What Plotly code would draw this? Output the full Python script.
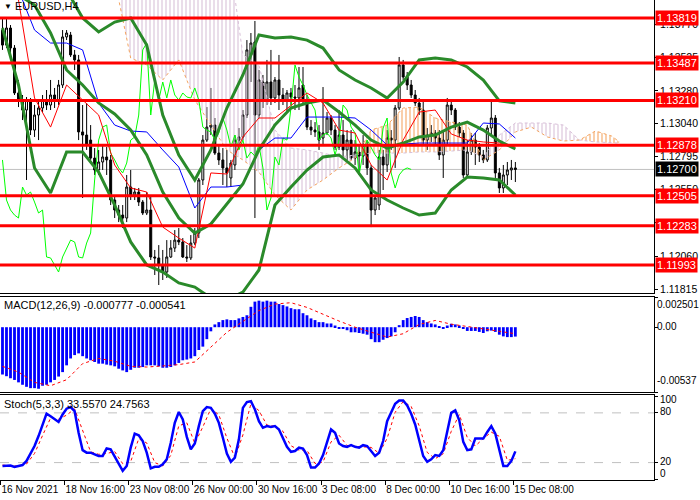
import plotly.graph_objects as go
from plotly.subplots import make_subplots

# EURUSD H4, 16 Nov 2021 00:00 .. 15 Dec 2021 08:00 (129 bars)
opens = [1.13730, 1.13619, 1.13745, 1.13597, 1.13265, 1.13213, 1.13139, 1.13213, 1.12991, 1.13102,
         1.13154, 1.13213, 1.13176, 1.13250, 1.13213, 1.13324, 1.13679, 1.13693, 1.13546, 1.13509,
         1.12977, 1.12954, 1.12917, 1.12784, 1.12696, 1.12755, 1.12792, 1.12770, 1.12474, 1.12400,
         1.12363, 1.12341, 1.12570, 1.12511, 1.12533, 1.12459, 1.12378, 1.12400, 1.12053, 1.12046,
         1.11994, 1.11942, 1.12053, 1.12119, 1.12178, 1.12164, 1.12053, 1.12046, 1.12156, 1.12230,
         1.12622, 1.12917, 1.13013, 1.13028, 1.12821, 1.12770, 1.12711, 1.12637, 1.12733, 1.12917,
         1.12940, 1.13102, 1.13546, 1.13642, 1.13102, 1.13346, 1.13213, 1.13346, 1.13228, 1.13361,
         1.13250, 1.13213, 1.13265, 1.13235, 1.13228, 1.13324, 1.13213, 1.13013, 1.12991, 1.12977,
         1.12932, 1.12969, 1.13080, 1.12991, 1.12866, 1.12954, 1.12844, 1.12917, 1.12784, 1.12829,
         1.12799, 1.12880, 1.12711, 1.12400, 1.12437, 1.12792, 1.12733, 1.12932, 1.12917, 1.13154,
         1.13472, 1.13383, 1.13324, 1.13250, 1.13191, 1.13139, 1.12917, 1.12954, 1.12969, 1.12932,
         1.12807, 1.12917, 1.13176, 1.13139, 1.13013, 1.12969, 1.12659, 1.12829, 1.12917, 1.12866,
         1.12807, 1.12770, 1.13006, 1.13080, 1.12674, 1.12563, 1.12659, 1.12696, 1.12711]
highs = [1.13819, 1.13819, 1.13767, 1.13619, 1.13361, 1.13250, 1.13235, 1.13228, 1.13176, 1.13213,
         1.13250, 1.13287, 1.13361, 1.13302, 1.13361, 1.13730, 1.13730, 1.13716, 1.13583, 1.13546,
         1.13176, 1.13191, 1.13028, 1.12858, 1.12844, 1.12880, 1.12866, 1.12807, 1.12511, 1.12437,
         1.12437, 1.12659, 1.12696, 1.12563, 1.12563, 1.12474, 1.12533, 1.12511, 1.12105, 1.12141,
         1.12105, 1.12178, 1.12178, 1.12252, 1.12267, 1.12193, 1.12141, 1.12215, 1.12267, 1.12637,
         1.12954, 1.13161, 1.13302, 1.13080, 1.12880, 1.12858, 1.12844, 1.12770, 1.12954, 1.13006,
         1.13139, 1.13656, 1.13708, 1.13797, 1.13435, 1.13398, 1.13509, 1.13583, 1.13383, 1.13546,
         1.13302, 1.13287, 1.13302, 1.13324, 1.13457, 1.13457, 1.13250, 1.13065, 1.13050, 1.13028,
         1.13309, 1.13124, 1.13102, 1.13028, 1.13139, 1.13065, 1.12991, 1.12991, 1.12917, 1.12880,
         1.12954, 1.12917, 1.12733, 1.12511, 1.12844, 1.12844, 1.12991, 1.12991, 1.13176, 1.13531,
         1.13509, 1.13420, 1.13361, 1.13287, 1.13228, 1.13213, 1.13006, 1.13028, 1.12991, 1.12991,
         1.12991, 1.13228, 1.13213, 1.13154, 1.13050, 1.12991, 1.12917, 1.12969, 1.12969, 1.12895,
         1.12844, 1.13028, 1.13213, 1.13102, 1.12711, 1.12733, 1.12755, 1.12770, 1.12755]
lows = [1.13583, 1.13597, 1.13546, 1.13250, 1.13161, 1.13065, 1.12622, 1.12954, 1.12940, 1.12917,
        1.13124, 1.13139, 1.13139, 1.13154, 1.13176, 1.13302, 1.13656, 1.13531, 1.13435, 1.12917,
        1.12489, 1.12844, 1.12770, 1.12659, 1.12659, 1.12696, 1.12659, 1.12437, 1.12341, 1.12311,
        1.12267, 1.12311, 1.12474, 1.12474, 1.12430, 1.12363, 1.12363, 1.12031, 1.11920, 1.11846,
        1.11883, 1.11898, 1.12046, 1.12090, 1.12141, 1.12046, 1.12016, 1.12031, 1.12141, 1.12193,
        1.12585, 1.12903, 1.12954, 1.12807, 1.12733, 1.12585, 1.12570, 1.12570, 1.12696, 1.12858,
        1.12917, 1.13080, 1.13346, 1.12341, 1.13080, 1.13154, 1.13176, 1.13176, 1.13191, 1.13139,
        1.13176, 1.13124, 1.13176, 1.13139, 1.13139, 1.13176, 1.12991, 1.12954, 1.12940, 1.12844,
        1.12880, 1.12954, 1.12954, 1.12844, 1.12844, 1.12792, 1.12770, 1.12770, 1.12733, 1.12659,
        1.12733, 1.12659, 1.12274, 1.12363, 1.12400, 1.12548, 1.12681, 1.12844, 1.12711, 1.13139,
        1.13361, 1.13287, 1.13228, 1.13169, 1.13102, 1.12880, 1.12844, 1.12903, 1.12880, 1.12770,
        1.12637, 1.12880, 1.13102, 1.12991, 1.12940, 1.12637, 1.12637, 1.12807, 1.12733, 1.12755,
        1.12747, 1.12755, 1.12954, 1.12637, 1.12526, 1.12526, 1.12585, 1.12622, 1.12607]
closes = [1.13619, 1.13745, 1.13597, 1.13265, 1.13213, 1.13139, 1.13213, 1.12991, 1.13102, 1.13154,
          1.13213, 1.13176, 1.13250, 1.13213, 1.13324, 1.13679, 1.13708, 1.13546, 1.13509, 1.12977,
          1.12954, 1.12880, 1.12784, 1.12696, 1.12755, 1.12792, 1.12770, 1.12474, 1.12400, 1.12363,
          1.12341, 1.12570, 1.12511, 1.12533, 1.12459, 1.12378, 1.12400, 1.12053, 1.12046, 1.11994,
          1.11942, 1.12053, 1.12119, 1.12178, 1.12164, 1.12053, 1.12046, 1.12156, 1.12230, 1.12622,
          1.12917, 1.13013, 1.13028, 1.12821, 1.12770, 1.12711, 1.12674, 1.12747, 1.12917, 1.12940,
          1.13102, 1.13583, 1.13634, 1.13102, 1.13361, 1.13213, 1.13346, 1.13228, 1.13361, 1.13250,
          1.13213, 1.13265, 1.13235, 1.13228, 1.13302, 1.13213, 1.13013, 1.12991, 1.12977, 1.12917,
          1.12969, 1.13080, 1.12991, 1.12866, 1.12954, 1.12844, 1.12917, 1.12784, 1.12829, 1.12799,
          1.12880, 1.12711, 1.12400, 1.12489, 1.12792, 1.12733, 1.12932, 1.12917, 1.13154, 1.13472,
          1.13383, 1.13324, 1.13250, 1.13191, 1.13139, 1.12917, 1.12954, 1.12969, 1.12932, 1.12807,
          1.12917, 1.13176, 1.13139, 1.13013, 1.12969, 1.12659, 1.12829, 1.12917, 1.12866, 1.12807,
          1.12770, 1.13006, 1.13080, 1.12674, 1.12563, 1.12659, 1.12696, 1.12711, 1.12700]
bars = list(range(len(closes)))

# indicator lines read every 4 bars
ind_x = list(range(0, 129, 4))
bb_upper = [1.14381, 1.14654, 1.15061, 1.14876, 1.14026, 1.13819, 1.13716, 1.13789, 1.13819, 1.13619,
            1.13102, 1.12807, 1.12622, 1.12844, 1.13154, 1.13398, 1.13693, 1.13671, 1.13679, 1.13656,
            1.13597, 1.13435, 1.13361, 1.13302, 1.13228, 1.13346, 1.13509, 1.13523, 1.13509, 1.13457,
            1.13361, 1.13206, 1.13191]
bb_mid = [1.14063, 1.13989, 1.13915, 1.13708, 1.13435, 1.13324, 1.13191, 1.13110, 1.12991, 1.12807,
          1.12533, 1.12341, 1.12230, 1.12297, 1.12444, 1.12592, 1.12844, 1.13028, 1.13154, 1.13191,
          1.13213, 1.13124, 1.13028, 1.12917, 1.12858, 1.12895, 1.12940, 1.12954, 1.13013, 1.13050,
          1.12991, 1.12910, 1.12851]
bb_lower = [1.13745, 1.13324, 1.12711, 1.12526, 1.12829, 1.12829, 1.12681, 1.12437, 1.12164, 1.11994,
            1.11942, 1.11861, 1.11831, 1.11750, 1.11735, 1.11794, 1.11957, 1.12437, 1.12570, 1.12696,
            1.12792, 1.12807, 1.12711, 1.12548, 1.12474, 1.12415, 1.12363, 1.12378, 1.12548, 1.12644,
            1.12637, 1.12622, 1.12511]
tenkan = [1.14248, 1.13952, 1.13228, 1.13013, 1.13324, 1.13213, 1.13102, 1.12733, 1.12563, 1.12533,
          1.12274, 1.12193, 1.12119, 1.12674, 1.12666, 1.12940, 1.13080, 1.13080, 1.13176, 1.13265,
          1.13191, 1.12991, 1.12969, 1.12733, 1.12622, 1.12917, 1.13124, 1.13139, 1.12962, 1.12917,
          1.12903, 1.12895, 1.12866]
kijun = [1.14100, 1.14026, 1.13730, 1.13634, 1.13634, 1.13583, 1.13191, 1.13028, 1.12984, 1.12977,
         1.12844, 1.12718, 1.12415, 1.12570, 1.12570, 1.12585, 1.12844, 1.12932, 1.12932, 1.13087,
         1.13087, 1.13087, 1.13080, 1.12991, 1.12880, 1.12888, 1.12895, 1.12895, 1.12895, 1.12895,
         1.13043, 1.13036, 1.12932]

# Senkou spans (already shifted 26 bars forward)
cloud_x = list(range(0, 153, 4)) + [154]
span_a = [1.14174, 1.14174, 1.14174, 1.14174, 1.14174, 1.14174, 1.14174, 1.14100, 1.13523, 1.13472,
          1.13361, 1.13509, 1.13213, 1.13028, 1.12844, 1.12770, 1.12681, 1.12511, 1.12400, 1.12548,
          1.12622, 1.12711, 1.12784, 1.12991, 1.13028, 1.13154, 1.13161, 1.13080, 1.13050, 1.13028,
          1.12770, 1.12844, 1.12977, 1.13013, 1.12940, 1.12910, 1.12917, 1.12984, 1.12947, 1.12903]
span_b = [1.14395, 1.14395, 1.14395, 1.14395, 1.14395, 1.14395, 1.14395, 1.14395, 1.14395, 1.14395,
          1.14395, 1.14395, 1.14395, 1.14395, 1.14395, 1.13546, 1.13472, 1.12991, 1.12858, 1.12844,
          1.12821, 1.12792, 1.12807, 1.12821, 1.12821, 1.12821, 1.12829, 1.12829, 1.12836, 1.12844,
          1.12792, 1.12954, 1.13043, 1.13043, 1.13043, 1.13028, 1.12917, 1.12903, 1.12895, 1.12895]

levels = [1.13819, 1.13487, 1.13210, 1.12878, 1.12505, 1.12283, 1.11993]
last_price = 1.12700
price_ticks = [1.11815, 1.12060, 1.12305, 1.12550, 1.12795, 1.13040, 1.13280, 1.13525, 1.13770]

macd = [-0.00392, -0.00406, -0.00423, -0.00437, -0.00457, -0.00477, -0.00494, -0.00505, -0.00505, -0.00510,
        -0.00485, -0.00477, -0.00457, -0.00437, -0.00409, -0.00372, -0.00316, -0.00259, -0.00231, -0.00217,
        -0.00240, -0.00259, -0.00274, -0.00288, -0.00302, -0.00302, -0.00310, -0.00316, -0.00324, -0.00344,
        -0.00358, -0.00372, -0.00353, -0.00336, -0.00336, -0.00330, -0.00316, -0.00316, -0.00316, -0.00324,
        -0.00336, -0.00336, -0.00330, -0.00316, -0.00296, -0.00274, -0.00268, -0.00259, -0.00240, -0.00189,
        -0.00161, -0.00099, -0.00034, 0.00023, 0.00042, 0.00059, 0.00065, 0.00059, 0.00059, 0.00073,
        0.00085, 0.00099, 0.00169, 0.00212, 0.00220, 0.00212, 0.00220, 0.00212, 0.00212, 0.00192,
        0.00183, 0.00172, 0.00158, 0.00149, 0.00149, 0.00116, 0.00099, 0.00073, 0.00059, 0.00042,
        0.00042, 0.00031, 0.00031, 0.00014, -0.00014, -0.00014, -0.00025, -0.00042, -0.00042, -0.00048,
        -0.00054, -0.00062, -0.00099, -0.00124, -0.00124, -0.00104, -0.00090, -0.00076, -0.00042, 0.00017,
        0.00059, 0.00076, 0.00085, 0.00093, 0.00085, 0.00059, 0.00042, 0.00031, 0.00023, 0.00008,
        -0.00008, 0.00014, 0.00028, 0.00023, 0.00014, -0.00014, -0.00031, -0.00031, -0.00031, -0.00039,
        -0.00048, -0.00034, -0.00028, -0.00039, -0.00062, -0.00076, -0.00082, -0.00082, -0.000777]
macd_signal = [-0.00324, -0.00372, -0.00457, -0.00485, -0.00435, -0.00302, -0.00259, -0.00282, -0.00324,
               -0.00330, -0.00321, -0.00310, -0.00288, -0.00166, -0.00042, 0.00048, 0.00138, 0.00192,
               0.00203, 0.00164, 0.00107, 0.00051, 0.00000, -0.00042, -0.00082, -0.00054, 0.00023,
               0.00056, 0.00025, 0.00006, -0.00014, -0.00034, -0.000541]

stoch_k = [16, 16.5, 16.5, 14.7, 16, 17, 22, 31, 40, 52,
           66, 79, 76, 72, 69, 78, 85, 87, 82, 56,
           35, 32, 32, 30, 28, 28, 37, 36, 27, 19,
           10, 16, 38, 55, 53, 46, 32, 13, 15, 15,
           18, 24, 44, 68, 81, 72, 51, 36, 43, 64,
           82, 87, 86, 79, 68, 50, 31, 21, 26, 48,
           86, 93, 94, 84, 70, 62, 64, 63, 64, 60,
           49, 39, 33, 34, 38, 37, 29, 14, 14, 19,
           29, 46, 60, 56, 43, 40, 39, 41, 39, 38,
           41, 40, 34, 28, 32, 46, 70, 81, 91, 95,
           95, 89, 79, 66, 48, 28, 21, 24, 29, 28,
           35, 58, 80, 83, 71, 45, 35, 36, 49, 49,
           49, 57, 64, 55, 36, 16, 16, 22, 33.557]
stoch_d_x = list(range(0, 129, 2))
stoch_d = [17, 16.3, 15.7, 18.3, 31, 52.7, 73.7, 72.3, 77.3, 84.7,
           57.7, 33, 30, 31, 33.3, 18.7, 21.3, 48.7, 43.7, 20,
           16, 28.7, 64.3, 68, 43.3, 63, 85, 77.7, 49.7, 26,
           53.3, 91, 82.7, 65.3, 63.7, 57.7, 40.3, 35, 34.7, 19,
           20.7, 45, 53, 40.7, 39.7, 39.3, 38.3, 31.3, 49.3, 80.7,
           93.7, 87.7, 64.3, 32.3, 24.7, 30.7, 57.7, 78, 50.3, 40,
           49, 56.7, 51.7, 22.7, 24.756]

date_ticks = [0, 16, 32, 48, 64, 80, 96, 112, 128]
date_labels = ["16 Nov 2021", "18 Nov 16:00", "23 Nov 08:00", "26 Nov 00:00", "30 Nov 16:00",
               "3 Dec 08:00", "8 Dec 00:00", "10 Dec 16:00", "15 Dec 08:00"]

FONT = "Liberation Sans"
THISTLE = "#D8BFD8"
SANDY = "#F4A460"
BB_GREEN = "#2A8A2A"

fig = make_subplots(rows=3, cols=1, shared_xaxes=True, vertical_spacing=0.0)

# ichimoku cloud, hatched like MT4
runs = []
for k in range(len(cloud_x) - 1):
    up = span_a[k] + span_a[k + 1] >= span_b[k] + span_b[k + 1]
    if runs and runs[-1][0] == up:
        runs[-1][2] = k + 1
    else:
        runs.append([up, k, k + 1])
for up, i0, i1 in runs:
    col = SANDY if up else THISTLE
    xs = cloud_x[i0:i1 + 1]
    fig.add_trace(go.Scatter(x=xs, y=span_b[i0:i1 + 1], mode="lines", line=dict(width=0),
                             hoverinfo="skip", showlegend=False), row=1, col=1)
    fig.add_trace(go.Scatter(x=xs, y=span_a[i0:i1 + 1], mode="lines", line=dict(width=0),
                             fill="tonexty", fillcolor="rgba(0,0,0,0)",
                             fillpattern=dict(shape="|", fgcolor=col, bgcolor="rgba(0,0,0,0)",
                                              size=4, solidity=0.3, fgopacity=0.9),
                             hoverinfo="skip", showlegend=False), row=1, col=1)
fig.add_trace(go.Scatter(x=cloud_x, y=span_a, mode="lines", line=dict(color=SANDY, width=1, dash="dot"),
                         showlegend=False), row=1, col=1)
fig.add_trace(go.Scatter(x=cloud_x, y=span_b, mode="lines", line=dict(color=THISTLE, width=1, dash="dot"),
                         showlegend=False), row=1, col=1)

# chikou span = close shifted 26 bars back
fig.add_trace(go.Scatter(x=[b - 26 for b in bars[26:]], y=closes[26:], mode="lines",
                         line=dict(color="#00FF00", width=1), showlegend=False), row=1, col=1)
fig.add_trace(go.Scatter(x=ind_x, y=kijun, mode="lines", line=dict(color="#0000FF", width=1),
                         showlegend=False), row=1, col=1)
fig.add_trace(go.Scatter(x=ind_x, y=tenkan, mode="lines", line=dict(color="#FF0000", width=1),
                         showlegend=False), row=1, col=1)
for band in (bb_upper, bb_mid, bb_lower):
    fig.add_trace(go.Scatter(x=ind_x, y=band, mode="lines", line=dict(color=BB_GREEN, width=3),
                             showlegend=False), row=1, col=1)

fig.add_trace(go.Candlestick(x=bars, open=opens, high=highs, low=lows, close=closes,
                             increasing=dict(line=dict(color="black", width=1), fillcolor="white"),
                             decreasing=dict(line=dict(color="black", width=1), fillcolor="black"),
                             whiskerwidth=0, showlegend=False), row=1, col=1)

# MACD
fig.add_trace(go.Bar(x=bars, y=macd, marker=dict(color="#0000FF", line=dict(width=0)),
                     showlegend=False), row=2, col=1)
fig.add_trace(go.Scatter(x=ind_x, y=macd_signal, mode="lines", line=dict(color="#FF0000", width=1, dash="dot"),
                         showlegend=False), row=2, col=1)

# Stochastic
fig.add_trace(go.Scatter(x=stoch_d_x, y=stoch_d, mode="lines", line=dict(color="#FF0000", width=1, dash="dot"),
                         showlegend=False), row=3, col=1)
fig.add_trace(go.Scatter(x=bars, y=stoch_k, mode="lines", line=dict(color="#0000FF", width=2.5),
                         showlegend=False), row=3, col=1)

xr = [-0.62, 162.6]
fig.update_xaxes(range=xr, showgrid=False, zeroline=False, showline=True, linecolor="black",
                 linewidth=1, rangeslider_visible=False, automargin=False)
fig.update_xaxes(showticklabels=False, ticks="", row=1, col=1)
fig.update_xaxes(showticklabels=False, ticks="", mirror=True, row=2, col=1)
fig.update_xaxes(mirror=True, ticks="outside", ticklen=4, tickcolor="black", tickangle=0,
                 tickvals=[t - 0.5 for t in date_ticks], ticktext=date_labels,
                 ticklabelposition="outside right", tickfont=dict(family=FONT, size=10, color="black"),
                 row=3, col=1)

# the 1.12305 label sits fully under the 1.12283 level tag
tick_text = ["" if abs(v - 1.12305) < 1e-9 else f"{v:.5f}" for v in price_ticks]
axis_common = dict(side="right", showgrid=False, zeroline=False, showline=True, linecolor="black",
                   ticks="outside", ticklen=3, tickcolor="black", automargin=False)
fig.update_yaxes(**axis_common, range=[1.11787, 1.13952], domain=[0.3896, 1.0],
                 tickvals=price_ticks, ticktext=tick_text,
                 tickfont=dict(family=FONT, size=10.5, color="black"), row=1, col=1)
fig.update_yaxes(**axis_common, range=[-0.00537, 0.002501], domain=[0.1833, 0.3812],
                 tickvals=[-0.00537, 0, 0.002501], showticklabels=False, row=2, col=1)
fig.update_yaxes(**axis_common, range=[-1, 101.5], domain=[0.0, 0.177],
                 tickvals=[0, 20, 80, 100], showticklabels=False, row=3, col=1)

shapes = []
for lv in (20, 80):
    shapes.append(dict(type="line", xref="x3 domain", x0=0, x1=1, yref="y3", y0=lv, y1=lv,
                       line=dict(color="#C0C0C0", width=1, dash="dash"), layer="below"))
shapes.append(dict(type="line", xref="x domain", x0=0, x1=1, yref="y", y0=last_price, y1=last_price,
                   line=dict(color="#C0C0C0", width=1), layer="below"))
for lv in levels:
    shapes.append(dict(type="line", xref="x domain", x0=0, x1=1, yref="y", y0=lv, y1=lv,
                       line=dict(color="#FF0000", width=3), layer="above"))

annotations = []
for lv in levels:
    annotations.append(dict(x=1, xref="paper", xanchor="left", xshift=1, y=lv, yref="y",
                            text=f"{lv:.5f}", showarrow=False, bgcolor="#FF0000", borderpad=1,
                            font=dict(family=FONT, size=11, color="white")))
annotations.append(dict(x=1, xref="paper", xanchor="left", xshift=1, y=last_price, yref="y",
                        text=f"{last_price:.5f}", showarrow=False, bgcolor="black", borderpad=1,
                        font=dict(family=FONT, size=11, color="white")))
annotations.append(dict(x=0, xref="paper", xanchor="left", xshift=2, y=1, yref="paper", yanchor="top",
                        text="▼", showarrow=False, font=dict(family=FONT, size=8, color="black")))
annotations.append(dict(x=0, xref="paper", xanchor="left", xshift=13, y=1, yref="paper", yanchor="top",
                        yshift=2, text="EURUSD,H4", showarrow=False,
                        font=dict(family=FONT, size=11, color="black")))
annotations.append(dict(x=0, xref="paper", xanchor="left", xshift=2, y=0.3646, yref="paper",
                        yanchor="middle", text="MACD(12,26,9) -0.000777 -0.000541", showarrow=False,
                        font=dict(family=FONT, size=11, color="black")))
annotations.append(dict(x=0, xref="paper", xanchor="left", xshift=2, y=0.1583, yref="paper",
                        yanchor="middle", text="Stoch(5,3,3) 33.5570 24.7563", showarrow=False,
                        font=dict(family=FONT, size=11, color="black")))
# sub-window scale labels, placed where MT4 prints them (paper y of a 480 px plot area)
for txt, yy in (("0.002501", 0.365), ("0.00", 0.319), ("-0.00537", 0.208)):
    annotations.append(dict(x=1, xref="paper", xanchor="left", xshift=1, y=yy, yref="paper",
                            yanchor="middle", text=txt, showarrow=False,
                            font=dict(family=FONT, size=10, color="black")))
for txt, yy in (("100", 0.167), ("80", 0.142), ("20", 0.038), ("0", 0.013)):
    annotations.append(dict(x=1, xref="paper", xanchor="left", xshift=4, y=yy, yref="paper",
                            yanchor="middle", text=txt, showarrow=False,
                            font=dict(family=FONT, size=10, color="black")))

fig.update_layout(width=700, height=500, margin=dict(l=0, r=46, t=0, b=20, autoexpand=False),
                  plot_bgcolor="white", paper_bgcolor="white", bargap=0.3,
                  shapes=shapes, annotations=annotations, showlegend=False,
                  font=dict(family=FONT, size=11, color="black"))

# the page's default body margin would push the 700x500 figure off the window
fig.write_html("out.html", config={"displayModeBar": False},
               post_script="document.body.style.margin='0';")
